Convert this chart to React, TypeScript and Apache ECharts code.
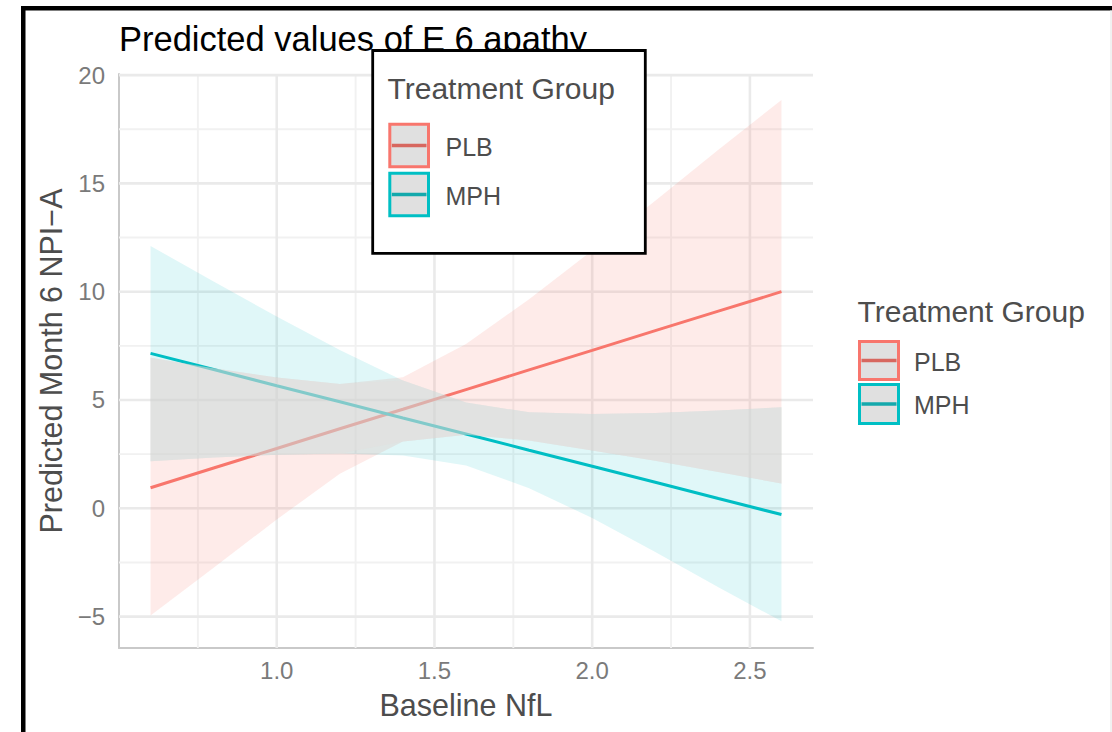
import React, { useEffect, useRef } from "react";
import * as echarts from "echarts";

// ---- data ----
const nflValues = [0.6, 0.8, 1.0, 1.2, 1.4, 1.6, 1.8, 2.0, 2.2, 2.4, 2.6];
const plbFit = [0.95, 1.86, 2.76, 3.67, 4.57, 5.48, 6.39, 7.29, 8.2, 9.1, 10.0];
const plbLow = [-4.95, -2.74, -0.52, 1.6, 3.08, 3.4, 3.13, 2.67, 2.2, 1.68, 1.14];
const plbHigh = [6.95, 6.46, 6.04, 5.74, 6.05, 7.58, 9.65, 11.9, 14.2, 16.55, 18.85];
const mphFit = [7.15, 6.41, 5.66, 4.92, 4.17, 3.43, 2.68, 1.94, 1.2, 0.45, -0.29];
const mphLow = [2.17, 2.35, 2.47, 2.53, 2.44, 1.98, 0.93, -0.45, -2.02, -3.64, -5.22];
const mphHigh = [12.11, 10.47, 8.85, 7.31, 5.9, 4.88, 4.43, 4.35, 4.4, 4.52, 4.66];

const groups = ["PLB", "MPH"];
const yTicks = [-5, 0, 5, 10, 15, 20];
const yMinorTicks = [-2.5, 2.5, 7.5, 12.5, 17.5];
const xTicks = [1.0, 1.5, 2.0, 2.5];
const xMinorTicks = [0.75, 1.25, 1.75, 2.25];

const titleText = "Predicted values of E 6 apathy";
const xName = "Baseline NfL";
const yName = "Predicted Month 6 NPI\u2212A";
const legendTitle = "Treatment Group";

// ---- styling ----
const X_MIN = 0.5;
const X_MAX = 2.7;
const Y_MIN = -6.45;
const Y_MAX = 20.05;
const FONT = '"Liberation Sans", Arial, Helvetica, sans-serif';
const lineColors = ["#F8766D", "#00BFC4"];
const keyLineColors = ["#D7675F", "#14A9AC"];
const bandFills = ["rgba(248,118,109,0.15)", "rgba(0,191,196,0.12)"];
const overlapFill = "rgba(228,223,221,0.5)";

function bandSeries(name: string, low: number[], high: number[], fill: string, z: number) {
  return {
    type: "custom",
    name,
    z,
    silent: true,
    clip: true,
    data: [[nflValues[0], low[0]]],
    renderItem: (_p: any, api: any) => {
      const upper = nflValues.map((x, i) => api.coord([x, high[i]]));
      const lower = nflValues.map((x, i) => api.coord([x, low[i]])).reverse();
      return {
        type: "polygon",
        shape: { points: upper.concat(lower) },
        style: { fill, stroke: null },
        silent: true,
      };
    },
  };
}

const overlapLow = nflValues.map((_, i) => Math.max(plbLow[i], mphLow[i]));
const overlapHigh = nflValues.map((_, i) => Math.min(plbHigh[i], mphHigh[i]));

const gridSeries = {
  type: "custom",
  name: "grid",
  z: 1,
  silent: true,
  clip: false,
  data: [[X_MIN, Y_MIN]],
  renderItem: (_p: any, api: any) => {
    const children: any[] = [];
    const add = (a: number[], b: number[], major: boolean) =>
      children.push({
        type: "line",
        shape: { x1: a[0], y1: a[1], x2: b[0], y2: b[1] },
        style: { stroke: major ? "#EAEAEA" : "#F1F1F1", lineWidth: major ? 2.6 : 1.9 },
        silent: true,
      });
    yMinorTicks.forEach((v) => add(api.coord([X_MIN, v]), api.coord([X_MAX, v]), false));
    xMinorTicks.forEach((v) => add(api.coord([v, Y_MIN]), api.coord([v, Y_MAX]), false));
    yTicks.forEach((v) => add(api.coord([X_MIN, v]), api.coord([X_MAX, v]), true));
    xTicks.forEach((v) => add(api.coord([v, Y_MIN]), api.coord([v, Y_MAX]), true));
    return { type: "group", children };
  },
};

function legendGraphics(
  titleX: number,
  titleY: number,
  keyX: number,
  keyYs: number[],
  keyW: number,
  keyHs: number[],
  labelX: number,
  z: number
) {
  const els: any[] = [
    {
      type: "text",
      z,
      x: titleX,
      y: titleY,
      style: {
        text: legendTitle,
        fill: "#4D4D4D",
        font: `30px ${FONT}`,
        align: "left",
        verticalAlign: "middle",
      },
    },
  ];
  groups.forEach((g, i) => {
    const y = keyYs[i];
    const h = keyHs[i];
    els.push({
      type: "rect",
      z,
      shape: { x: keyX, y, width: keyW, height: h },
      style: { fill: "#E0E0E0", stroke: lineColors[i], lineWidth: 3 },
    });
    els.push({
      type: "line",
      z: z + 1,
      shape: { x1: keyX + 2, y1: y + h / 2, x2: keyX + keyW - 2, y2: y + h / 2 },
      style: { stroke: keyLineColors[i], lineWidth: 3.5 },
    });
    els.push({
      type: "text",
      z,
      x: labelX,
      y: y + h / 2 + 1,
      style: {
        text: g,
        fill: "#4D4D4D",
        font: `25px ${FONT}`,
        align: "left",
        verticalAlign: "middle",
      },
    });
  });
  return els;
}

export default function App() {
  const ref = useRef<HTMLDivElement>(null);

  useEffect(() => {
    if (!ref.current) return;
    const chart = echarts.init(ref.current, undefined, { renderer: "svg" });
    const fitSets = [plbFit, mphFit];

    const option: any = {
      animation: false,
      backgroundColor: "#ffffff",
      textStyle: { fontFamily: FONT },
      title: {
        text: titleText,
        left: 119,
        top: 21,
        padding: 0,
        textStyle: { fontSize: 34.5, fontWeight: "normal", color: "#000000", fontFamily: FONT },
      },
      grid: { left: 119, top: 74, width: 694, height: 574, containLabel: false },
      xAxis: {
        type: "value",
        min: X_MIN,
        max: X_MAX,
        name: xName,
        nameLocation: "middle",
        nameGap: 41,
        nameTextStyle: { fontSize: 30.5, color: "#4D4D4D", fontFamily: FONT },
        axisLine: { show: true, onZero: false, lineStyle: { color: "#C9C9C9", width: 2 } },
        axisTick: { show: false },
        splitLine: { show: false },
        axisLabel: {
          customValues: xTicks,
          formatter: (v: number) => v.toFixed(1),
          color: "#7A7A7A",
          fontSize: 24,
          margin: 10,
          fontFamily: FONT,
        },
      },
      yAxis: {
        type: "value",
        min: Y_MIN,
        max: Y_MAX,
        name: yName,
        nameLocation: "middle",
        nameGap: 51,
        nameTextStyle: { fontSize: 30.5, color: "#4D4D4D", fontFamily: FONT },
        axisLine: { show: true, onZero: false, lineStyle: { color: "#C9C9C9", width: 2 } },
        axisTick: { show: false },
        splitLine: { show: false },
        axisLabel: {
          customValues: yTicks,
          formatter: (v: number) => (v < 0 ? "\u2212" + Math.abs(v) : String(v)),
          color: "#7A7A7A",
          fontSize: 24,
          margin: 14,
          fontFamily: FONT,
        },
      },
      series: [
        gridSeries,
        ...groups.map((g, i) => ({
          type: "line",
          name: g,
          z: 2,
          silent: true,
          showSymbol: false,
          symbol: "none",
          data: nflValues.map((x, k) => [x, fitSets[i][k]]),
          lineStyle: { color: lineColors[i], width: 3 },
          itemStyle: { color: lineColors[i] },
        })),
        bandSeries("PLB CI", plbLow, plbHigh, bandFills[0], 3),
        bandSeries("MPH CI", mphLow, mphHigh, bandFills[1], 4),
        bandSeries("overlap", overlapLow, overlapHigh, overlapFill, 5),
      ],
      graphic: [
        // screenshot frame
        { type: "rect", z: 200, silent: true, shape: { x: 21, y: 6, width: 1091, height: 4.5 }, style: { fill: "#000" } },
        { type: "rect", z: 200, silent: true, shape: { x: 21, y: 6, width: 4.5, height: 726 }, style: { fill: "#000" } },
        { type: "rect", z: 200, silent: true, shape: { x: 1110.5, y: 10, width: 1, height: 722 }, style: { fill: "#E4E4E4" } },
        // inner legend box
        {
          type: "rect",
          z: 100,
          silent: true,
          shape: { x: 372.7, y: 50.5, width: 272.6, height: 202.8 },
          style: { fill: "#ffffff", stroke: "#000000", lineWidth: 2.8 },
        },
        ...legendGraphics(387.5, 88, 389.8, [124.2, 173.2], 38.7, [42.6, 42.6], 445.5, 110),
        ...legendGraphics(857.5, 311.5, 859.5, [341.5, 384.5], 39, [38, 39], 914, 110),
      ],
    };

    chart.setOption(option);
    return () => chart.dispose();
  }, []);

  return (
    <div
      ref={ref}
      style={{ position: "fixed", left: 0, top: 0, width: 1112, height: 732, background: "#fff" }}
    />
  );
}
